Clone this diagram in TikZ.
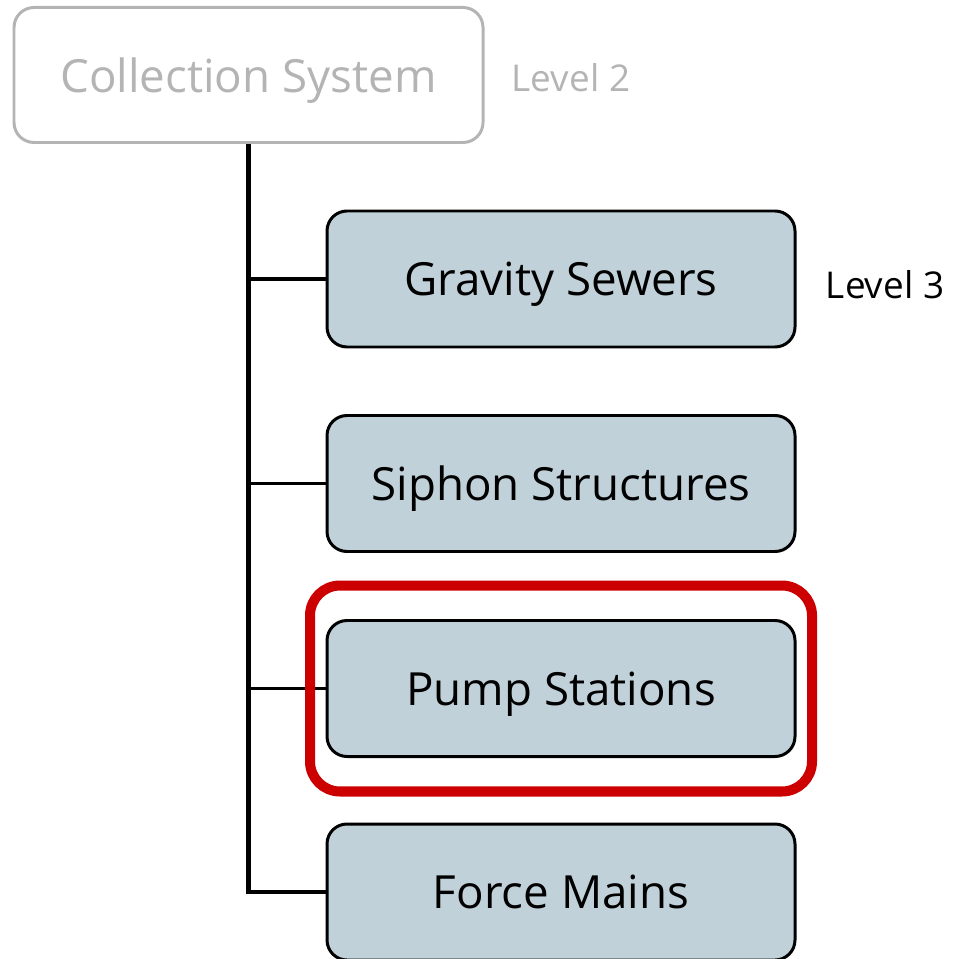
\documentclass[tikz,border=0pt]{standalone}
\usepackage{fontspec}
\setmainfont{Open Sans}
\usepackage{tikz}
\usetikzlibrary{positioning,fit}
\definecolor{sewergray}{RGB}{180,180,180}
\definecolor{sewerblue}{RGB}{192,209,217}
\definecolor{sewerred}{RGB}{204,0,0}

\begin{document}
\begin{tikzpicture}[
    levelbox/.style={draw, line width=1.7pt, rounded corners=0.4cm, fill=sewerblue,
      minimum width=9.36cm, minimum height=2.72cm, inner sep=0pt, text depth=0pt,
      font=\fontsize{26}{30}\selectfont},
    topbox/.style={levelbox, draw=sewergray, fill=white, text=sewergray,
      minimum width=9.38cm, minimum height=2.7cm},
    branch/.style={line width=2pt},
    levellabel/.style={font=\fontsize{21}{25}\selectfont}
  ]
  \useasboundingbox (0,0) rectangle (19.06,-19.18);

  % level 2 and its children
  \node[topbox] (coll) at (4.97,-1.5) {Collection System};
  \node[levellabel, text=sewergray] (lvltwo) at (11.42,-1.56) {Level 2};

  \node[levelbox] (gravity) at (11.22,-5.58) {Gravity Sewers};
  \node[levellabel] (lvlthree) at (17.7,-5.7) {Level 3};
  \node[levelbox] (siphon) at (11.22,-9.67) {Siphon Structures};
  \node[levelbox] (pump) at (11.22,-13.77) {Pump Stations};
  \node[levelbox] (force) at (11.22,-17.84) {Force Mains};

  % trunk and branches
  \draw[line width=2.5pt] (coll.south) |- (force.west);
  \foreach \n in {gravity,siphon,pump}
    \draw[branch] (coll.south |- \n.west) -- (\n.west);

  % highlight
  \node[draw=sewerred, line width=5.7pt, rounded corners=0.6cm,
    inner xsep=0.31cm, inner ysep=0.67cm, fit=(pump)] (mark) {};
\end{tikzpicture}
\end{document}
